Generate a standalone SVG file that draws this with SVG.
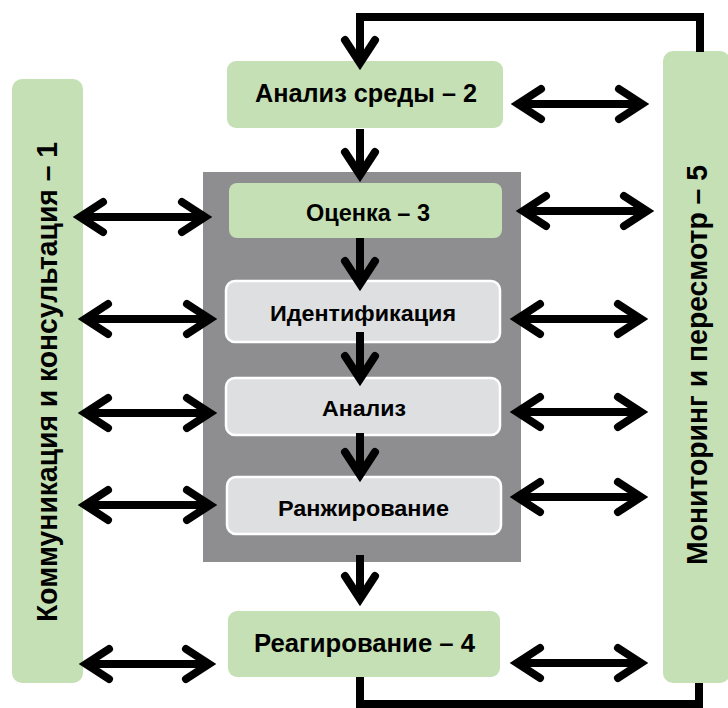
<svg xmlns="http://www.w3.org/2000/svg" width="728" height="708" viewBox="0 0 728 708">
<defs>
<style>
.green{fill:#c5e0b4;}
.gray{fill:#8e8e90;}
.light{fill:#dedfe1;stroke:#ffffff;stroke-width:2.5;}
.t{font-family:"Liberation Sans",Arial,sans-serif;font-weight:bold;fill:#000;text-anchor:middle;}
.ln{fill:none;stroke:#000;stroke-width:8;stroke-linejoin:miter;}
</style>
<marker id="ah" markerUnits="userSpaceOnUse" orient="auto-start-reverse" refX="0" refY="0" markerWidth="40" markerHeight="40" overflow="visible">
<path d="M -23 -15 L 0 0 L -23 15" fill="none" stroke="#000" stroke-width="8" stroke-linecap="round" stroke-linejoin="miter" stroke-miterlimit="10"/>
</marker>
</defs>
<rect width="728" height="708" fill="#ffffff"/>

<g id="node-gray-panel"><rect class="gray" x="203" y="172" width="318" height="390"/></g>

<g id="node-1">
<rect class="green" x="12" y="79" width="71" height="604" rx="10"/>
<text class="t" font-size="29" transform="translate(57,382) rotate(-90)" textLength="480" lengthAdjust="spacingAndGlyphs">Коммуникация и консультация – 1</text>
</g>
<g id="node-5">
<rect class="green" x="663" y="51" width="67" height="632" rx="10"/>
<text class="t" font-size="29" transform="translate(707,365) rotate(-90)" textLength="400" lengthAdjust="spacingAndGlyphs">Мониторинг и пересмотр – 5</text>
</g>
<g id="node-2">
<rect class="green" x="227" y="61" width="276" height="67" rx="9"/>
<text class="t" font-size="26" x="366" y="102" textLength="222" lengthAdjust="spacingAndGlyphs">Анализ среды – 2</text>
</g>
<g id="node-3">
<rect class="green" x="229" y="183" width="273" height="55" rx="8"/>
<text class="t" font-size="23" x="368" y="221" textLength="124" lengthAdjust="spacingAndGlyphs">Оценка – 3</text>
</g>
<g id="node-ident">
<rect class="light" x="226" y="281" width="274" height="61" rx="9"/>
<text class="t" font-size="22" x="363" y="321" textLength="186" lengthAdjust="spacingAndGlyphs">Идентификация</text>
</g>
<g id="node-analiz">
<rect class="light" x="226" y="378" width="274" height="57" rx="9"/>
<text class="t" font-size="22" x="364" y="416" textLength="84" lengthAdjust="spacingAndGlyphs">Анализ</text>
</g>
<g id="node-rank">
<rect class="light" x="227" y="477" width="274" height="57" rx="9"/>
<text class="t" font-size="22" x="363.5" y="516" textLength="171" lengthAdjust="spacingAndGlyphs">Ранжирование</text>
</g>
<g id="node-4">
<rect class="green" x="228" y="611" width="272" height="66" rx="9"/>
<text class="t" font-size="25" x="364.5" y="652" textLength="221" lengthAdjust="spacingAndGlyphs">Реагирование – 4</text>
</g>

<g id="connectors">
<path class="ln" d="M 700 52 V 17 H 360 V 63" marker-end="url(#ah)"/>
<path class="ln" d="M 360 677 V 704 H 699 V 683"/>
<line class="ln" x1="360" y1="129" x2="360" y2="175" marker-end="url(#ah)"/>
<line class="ln" x1="360" y1="238" x2="360" y2="284" marker-end="url(#ah)"/>
<line class="ln" x1="360" y1="332" x2="360" y2="379" marker-end="url(#ah)"/>
<line class="ln" x1="360" y1="433" x2="360" y2="475" marker-end="url(#ah)"/>
<line class="ln" x1="360" y1="555" x2="360" y2="599" marker-end="url(#ah)"/>
<line class="ln" x1="80" y1="217" x2="205" y2="217" marker-start="url(#ah)" marker-end="url(#ah)"/>
<line class="ln" x1="85" y1="319" x2="210" y2="319" marker-start="url(#ah)" marker-end="url(#ah)"/>
<line class="ln" x1="85" y1="413" x2="210" y2="413" marker-start="url(#ah)" marker-end="url(#ah)"/>
<line class="ln" x1="85" y1="505" x2="210" y2="505" marker-start="url(#ah)" marker-end="url(#ah)"/>
<line class="ln" x1="86" y1="664" x2="209" y2="664" marker-start="url(#ah)" marker-end="url(#ah)"/>
<line class="ln" x1="518" y1="104" x2="642" y2="104" marker-start="url(#ah)" marker-end="url(#ah)"/>
<line class="ln" x1="523" y1="211" x2="647" y2="211" marker-start="url(#ah)" marker-end="url(#ah)"/>
<line class="ln" x1="517" y1="319" x2="641" y2="319" marker-start="url(#ah)" marker-end="url(#ah)"/>
<line class="ln" x1="517" y1="412" x2="641" y2="412" marker-start="url(#ah)" marker-end="url(#ah)"/>
<line class="ln" x1="517" y1="497" x2="641" y2="497" marker-start="url(#ah)" marker-end="url(#ah)"/>
<line class="ln" x1="517" y1="663" x2="641" y2="663" marker-start="url(#ah)" marker-end="url(#ah)"/>
</g>
</svg>
